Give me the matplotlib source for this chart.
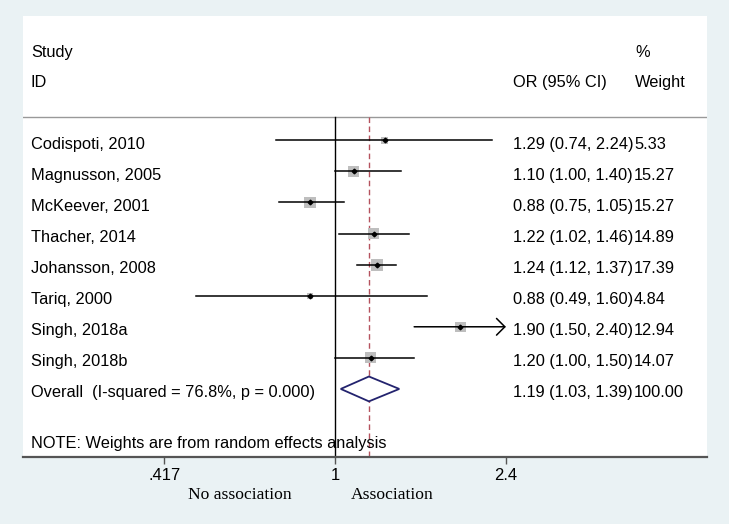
import numpy as np
import matplotlib
matplotlib.use('Agg')
import matplotlib.pyplot as plt
import matplotlib.transforms as mtrans

studies = ['Codispoti, 2010', 'Magnusson, 2005', 'McKeever, 2001', 'Thacher, 2014',
           'Johansson, 2008', 'Tariq, 2000', 'Singh, 2018a', 'Singh, 2018b']
odds = [1.29, 1.10, 0.88, 1.22, 1.24, 0.88, 1.90, 1.20]
ci_lo = [0.74, 1.00, 0.75, 1.02, 1.12, 0.49, 1.50, 1.00]
ci_hi = [2.24, 1.40, 1.05, 1.46, 1.37, 1.60, 2.40, 1.50]
weights = [5.33, 15.27, 15.27, 14.89, 17.39, 4.84, 12.94, 14.07]
pooled = (1.19, 1.03, 1.39)
overall_label = 'Overall  (I-squared = 76.8%, p = 0.000)'
note = 'NOTE: Weights are from random effects analysis'
xticks = [0.417, 1, 2.4]
xticklabels = ['.417', '1', '2.4']
x_clip = 2.4

BG = '#EAF2F4'
SANS = ['Liberation Sans', 'DejaVu Sans']
SERIF = ['Liberation Serif', 'DejaVu Serif']
plt.rcParams['font.family'] = SANS

fig = plt.figure(figsize=(7.29, 5.24), dpi=100, facecolor=BG)
ax = fig.add_axes([23 / 729, 67 / 524, 684 / 729, 441 / 524])
ax.set_facecolor('white')
ax.set_xscale('log')
ax.set_xlim(0.2024, 6.72)
ax.set_ylim(10.19, -4.0)
for s in ['top', 'left', 'right']:
    ax.spines[s].set_visible(False)
ax.spines['bottom'].set_color('#555555')
ax.spines['bottom'].set_linewidth(1.6)
ax.set_yticks([])
ax.minorticks_off()
ax.set_xticks(xticks)
ax.set_xticklabels(xticklabels, fontsize=12)
ax.tick_params(axis='x', length=5, width=1, color='#555555', pad=3)

# header and separator
tx = lambda px: (px - 23) / 684
T = mtrans.blended_transform_factory(ax.transAxes, ax.transData)
fs = 11.8
dy = 0.12   # text sits a touch lower than the marks
ax.text(tx(31), -2.95 + dy, 'Study', transform=T, fontsize=fs, va='center')
ax.text(tx(31), -1.97 + dy, 'ID', transform=T, fontsize=fs, va='center')
ax.text(tx(607), -1.97 + dy, 'OR (95% CI)', transform=T, fontsize=fs, va='center', ha='right')
ax.text(tx(635), -2.95 + dy, '%', transform=T, fontsize=fs, va='center')
ax.text(tx(635), -1.97 + dy, 'Weight', transform=T, fontsize=fs, va='center')
ax.axhline(-0.76, color='#999999', lw=1.0)

rows = np.arange(len(studies))
ax.plot([1, 1], [-0.76, 10.19], color='black', lw=1.0, zorder=2)
ax.plot([pooled[0]] * 2, [-0.76, 10.19], color='#B5525E', lw=1.0,
        dashes=(4, 2.5), zorder=2)

sides = 2.9 * np.sqrt(weights) * 0.72
ax.scatter(odds, rows, marker='s', s=sides ** 2, color='#BEBEBE', lw=0, zorder=3)
for i in rows:
    hi = min(ci_hi[i], x_clip)
    if ci_hi[i] >= x_clip:
        ax.annotate('', xy=(hi, i), xytext=(ci_lo[i], i),
                    arrowprops=dict(arrowstyle='->,head_length=0.6,head_width=0.6',
                                    lw=1.1, color='black', mutation_scale=10,
                                    shrinkA=0, shrinkB=0), zorder=4)
    else:
        ax.plot([ci_lo[i], hi], [i, i], color='black', lw=1.1, zorder=4)
    ax.plot(odds[i], i, marker='D', ms=2.4, color='black', zorder=5)
    ax.text(tx(31), i + dy, studies[i], transform=T, fontsize=fs, va='center')
    ax.text(tx(513), i + dy, '%.2f (%.2f, %.2f)' % (odds[i], ci_lo[i], ci_hi[i]),
            transform=T, fontsize=fs, va='center')
    ax.text(tx(634), i + dy, '%.2f' % weights[i], transform=T, fontsize=fs, va='center')

# pooled diamond
yo = len(studies)
est, lo, hi = pooled
ax.fill([lo, est, hi, est, lo], [yo, yo - 0.4, yo, yo + 0.4, yo], facecolor='white',
        edgecolor='#23236E', lw=1.3, zorder=4)
ax.text(tx(31), yo + dy, overall_label, transform=T, fontsize=fs, va='center')
ax.text(tx(513), yo + dy, '%.2f (%.2f, %.2f)' % pooled, transform=T, fontsize=fs, va='center')
ax.text(tx(634), yo + dy, '100.00', transform=T, fontsize=fs, va='center')
ax.text(tx(31), 9.56 + 0.2, note, transform=T, fontsize=fs, va='center')

TB = mtrans.blended_transform_factory(ax.transAxes, ax.transAxes)
ax.text(tx(292), -38 / 441, 'No association', transform=TB, fontsize=12.6,
        family=SERIF, ha='right', va='center')
ax.text(tx(351), -38 / 441, 'Association', transform=TB, fontsize=12.6,
        family=SERIF, ha='left', va='center')

fig.savefig('out.png', dpi=100, facecolor=BG)
